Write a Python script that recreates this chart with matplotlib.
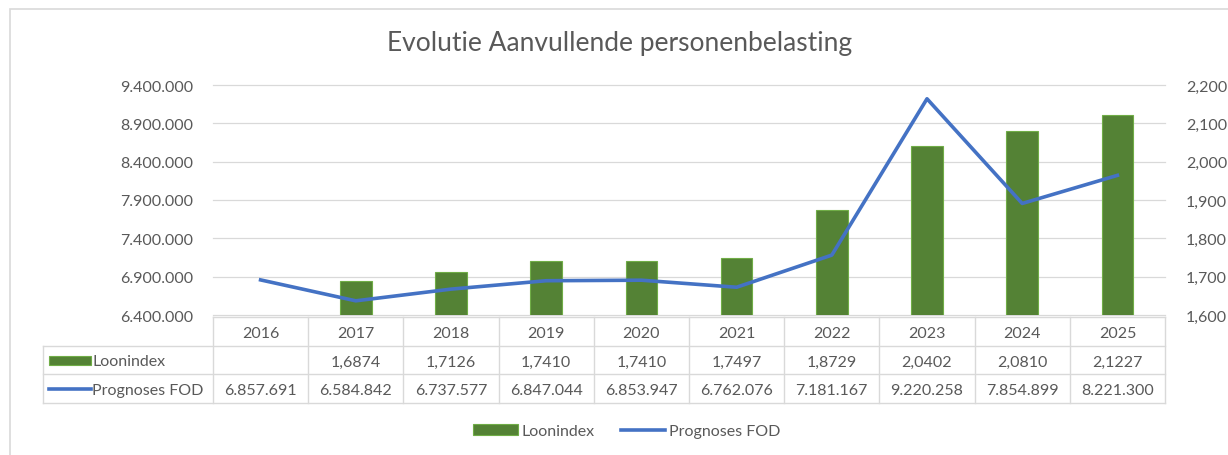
import numpy as np
import matplotlib
matplotlib.use("Agg")
from matplotlib import pyplot as plt
from matplotlib.patches import Rectangle
from matplotlib.lines import Line2D
from matplotlib.ticker import FuncFormatter

plt.rcParams['font.family'] = ['Lato', 'DejaVu Sans']

years = ['2016', '2017', '2018', '2019', '2020', '2021', '2022', '2023', '2024', '2025']
loonindex = [np.nan, 1.6874, 1.7126, 1.7410, 1.7410, 1.7497, 1.8729, 2.0402, 2.0810, 2.1227]
prognoses = [6857691, 6584842, 6737577, 6847044, 6853947, 6762076, 7181167, 9220258, 7854899, 8221300]

left_ticks = [6400000, 6900000, 7400000, 7900000, 8400000, 8900000, 9400000]
right_ticks = [1.6, 1.7, 1.8, 1.9, 2.0, 2.1, 2.2]

GREEN = '#548235'
GREEN_EDGE = '#70AD47'
BLUE = '#4472C4'
GRAY = '#595959'
GRID = '#D9D9D9'
FS = 11.5

W, H = 1228, 456


def rect(l, t, r, b):
    return [l / W, 1 - b / H, (r - l) / W, (b - t) / H]


def fmt_int(v):
    return f"{int(round(v)):,}".replace(",", ".")


def fmt_idx(v, d=3):
    return f"{v:.{d}f}".replace(".", ",")


fig = plt.figure(figsize=(W / 100, H / 100), dpi=100)

# outer frame
fig.patches.append(Rectangle((10 / W, -0.2), 1.2, 1.2 - 10 / H, transform=fig.transFigure,
                             fill=False, edgecolor=GRID, linewidth=1.2))

x = np.arange(len(years))

ax_bar = fig.add_axes(rect(213, 86, 1165, 316))
ax_line = fig.add_axes(rect(213, 86, 1165, 316), sharex=ax_bar)
ax_line.patch.set_visible(False)

bars = ax_bar.bar(x, loonindex, width=0.33, color=GREEN, edgecolor=GREEN_EDGE, linewidth=0.8,
                  label='Loonindex')
ax_bar.set_ylim(right_ticks[0], right_ticks[-1])
ax_bar.set_yticks(right_ticks)
ax_bar.yaxis.set_major_formatter(FuncFormatter(lambda v, p: fmt_idx(v)))
ax_bar.yaxis.tick_right()
ax_bar.set_axisbelow(True)
ax_bar.grid(axis='y', color=GRID, linewidth=0.9, clip_on=False)
ax_bar.tick_params(axis='y', length=0, pad=15, labelcolor=GRAY, labelsize=FS)

line, = ax_line.plot(x, prognoses, color=BLUE, linewidth=2.6, solid_joinstyle='round',
                     label='Prognoses FOD')
ax_line.set_ylim(left_ticks[0], left_ticks[-1])
ax_line.set_yticks(left_ticks)
ax_line.yaxis.set_major_formatter(FuncFormatter(lambda v, p: fmt_int(v)))
ax_line.yaxis.tick_left()
ax_line.tick_params(axis='y', length=0, pad=14, labelcolor=GRAY, labelsize=FS)

ax_bar.set_xlim(-0.5, len(years) - 0.5)
for a in (ax_bar, ax_line):
    a.tick_params(axis='x', bottom=False, labelbottom=False)
    for s in a.spines.values():
        s.set_visible(False)

# data table
ax_tab = fig.add_axes(rect(213, 318, 1165, 404))
ax_tab.set_xlim(-0.5, len(years) - 0.5)
ax_tab.set_ylim(3, 0)
ax_tab.axis('off')
col_px = 952 / len(years)
xl = -0.5 - (213 - 43) / col_px
lk = dict(color=GRID, linewidth=1, clip_on=False)
ax_tab.plot([-0.5, len(years) - 0.5], [0, 0], **lk)
for r in (1, 2, 3):
    ax_tab.plot([xl, len(years) - 0.5], [r, r], **lk)
for i in range(len(years) + 1):
    ax_tab.plot([i - 0.5, i - 0.5], [0, 3], **lk)
ax_tab.plot([xl, xl], [1, 3], **lk)

for i, yr in enumerate(years):
    ax_tab.text(i, 0.55, yr, ha='center', va='center', color=GRAY, fontsize=FS)
    if not np.isnan(loonindex[i]):
        ax_tab.text(i, 1.55, fmt_idx(loonindex[i], 4), ha='center', va='center', color=GRAY, fontsize=FS)
    ax_tab.text(i, 2.55, fmt_int(prognoses[i]), ha='center', va='center', color=GRAY, fontsize=FS)

k0 = xl + 6 / col_px
k1 = xl + 48 / col_px
ax_tab.add_patch(Rectangle((k0, 1.35), k1 - k0, 0.32, facecolor=GREEN, edgecolor=GREEN_EDGE,
                           linewidth=0.8, clip_on=False))
ax_tab.add_line(Line2D([k0, k1], [2.5, 2.5], color=BLUE, linewidth=2.6, clip_on=False))
ax_tab.text(k1 + 1 / col_px, 1.55, 'Loonindex', ha='left', va='center', color=GRAY, fontsize=FS)
ax_tab.text(k1 + 1 / col_px, 2.55, 'Prognoses FOD', ha='left', va='center', color=GRAY, fontsize=FS)

fig.text(620 / W, 1 - 44 / H, 'Evolutie Aanvullende personenbelasting', ha='center', va='center',
         color=GRAY, fontsize=19)

fig.legend(handles=[bars, line], labels=['Loonindex', 'Prognoses FOD'], loc='center',
           bbox_to_anchor=(627 / W, 1 - 432 / H), ncol=2, frameon=False, fontsize=FS,
           handlelength=2.8, handletextpad=0.25, columnspacing=1.6, labelcolor=GRAY)

fig.savefig('out.png', dpi=100, facecolor='white')
